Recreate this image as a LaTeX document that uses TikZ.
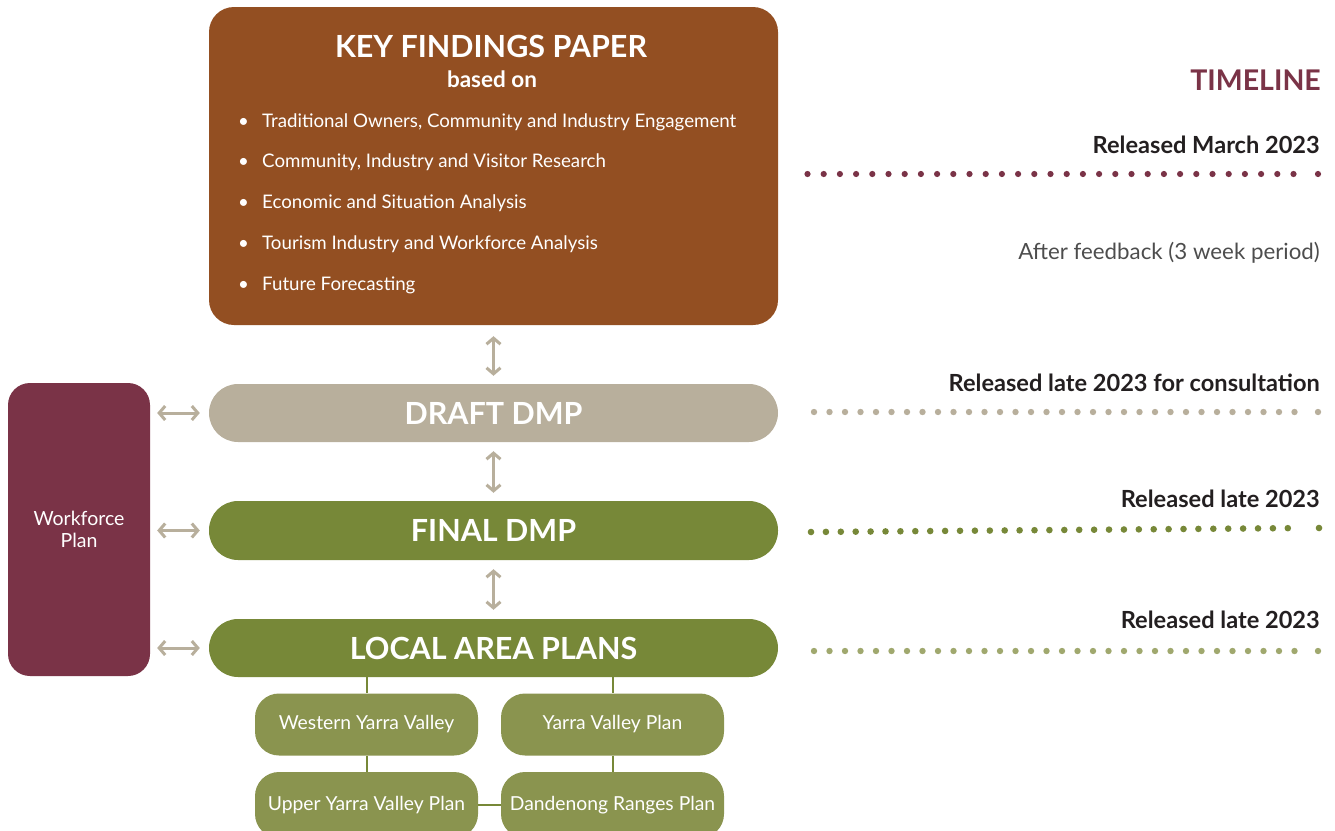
\documentclass[tikz,border=0pt]{standalone}
\usepackage{fontspec}
\setmainfont{Lato}
\usetikzlibrary{arrows.meta}

\definecolor{brownbox}{RGB}{147,79,34}
\definecolor{beige}{RGB}{184,175,156}
\definecolor{olive}{RGB}{119,136,56}
\definecolor{maroon}{RGB}{122,51,71}
\definecolor{subgreen}{RGB}{138,148,79}
\definecolor{lightgreen}{RGB}{160,168,110}
\definecolor{ink}{RGB}{35,31,32}
\definecolor{greytext}{RGB}{77,77,77}

\begin{document}
\begin{tikzpicture}[x=1pt,y=-1pt,
  stagebox/.style={rounded corners=29pt, minimum width=569pt, minimum height=58pt,
    inner sep=0pt, text=white, font=\fontsize{30.5}{32}\selectfont\bfseries},
  subbox/.style={fill=subgreen, rounded corners=24pt, minimum width=223pt,
    minimum height=62pt, inner sep=0pt, text=white, font=\fontsize{19.3}{21}\selectfont},
  bulletline/.style={anchor=west, text=white, inner sep=0pt, font=\fontsize{18.7}{21}\selectfont},
  dblarrow/.style={{Straight Barb[length=6pt,width=14pt]}-{Straight Barb[length=6pt,width=14pt]},
    line width=3pt, draw=beige},
  link/.style={draw=olive, line width=2pt},
  rightlabel/.style={anchor=east, inner sep=0pt, text=ink, font=\fontsize{23.6}{26}\selectfont\bfseries}
]
\useasboundingbox (0,0) rectangle (1335,830);
\clip (0,0) rectangle (1335,830);

% --- main column ---
\node[fill=brownbox, rounded corners=25pt, minimum width=569pt, minimum height=318pt,
      inner sep=0pt] (kfp) at (493.5,166) {};
\node[text=white, inner sep=0pt, font=\fontsize{30.5}{32}\selectfont\bfseries]
  (kfptitle) at (491,46) {KEY FINDINGS PAPER};
\node[text=white, inner sep=0pt, font=\fontsize{22.5}{24}\selectfont\bfseries]
  (kfpsub) at (492,79) {based on};
\node[bulletline] (b1) at (238,122) {\makebox[24pt][l]{•}Traditional Owners, Community and Industry Engagement};
\node[bulletline] (b2) at (238,162) {\makebox[24pt][l]{•}Community, Industry and Visitor Research};
\node[bulletline] (b3) at (238,203) {\makebox[24pt][l]{•}Economic and Situation Analysis};
\node[bulletline] (b4) at (238,244) {\makebox[24pt][l]{•}Tourism Industry and Workforce Analysis};
\node[bulletline] (b5) at (238,285) {\makebox[24pt][l]{•}Future Forecasting};

\node[stagebox, fill=beige] (draft) at (493.5,413) {DRAFT DMP};
\node[stagebox, fill=olive, minimum height=59pt] (final) at (493.5,530.5) {FINAL DMP};
\node[stagebox, fill=olive] (lap) at (493.5,648) {LOCAL AREA PLANS};

% --- side box ---
\node[fill=maroon, rounded corners=22pt, minimum width=142pt, minimum height=293pt,
      inner sep=0pt, text=white, align=center, font=\fontsize{19.5}{22}\selectfont]
  (wf) at (79,529.5) {Workforce\\Plan};

% --- arrows ---
\draw[dblarrow, shorten <=11pt, shorten >=8pt] (kfp.south) -- (draft.north);
\draw[dblarrow, shorten <=9pt, shorten >=8pt] (draft.south) -- (final.north);
\draw[dblarrow, shorten <=9pt, shorten >=9pt] (final.south) -- (lap.north);
\draw[dblarrow, shorten <=7pt, shorten >=9pt] (wf.east |- draft) -- (draft.west);
\draw[dblarrow, shorten <=7pt, shorten >=9pt] (wf.east |- final) -- (final.west);
\draw[dblarrow, shorten <=7pt, shorten >=9pt] (wf.east |- lap) -- (lap.west);

% --- local area plans ---
\node[subbox] (wyv) at (366.5,724.5) {Western Yarra Valley};
\node[subbox] (yvp) at (612.5,724.5) {Yarra Valley Plan};
\node[subbox, minimum height=66pt] (uyv) at (366.5,805) {\raisebox{2pt}{Upper Yarra Valley Plan}};
\node[subbox, minimum height=66pt] (drp) at (612.5,805) {\raisebox{2pt}{Dandenong Ranges Plan}};

\draw[link] (lap.south -| wyv.north) -- (wyv.north);
\draw[link] (lap.south -| yvp.north) -- (yvp.north);
\draw[link] (wyv.south) -- (uyv.north);
\draw[link] (yvp.south) -- (drp.north);
\draw[link] (uyv.east) -- (drp.west);

% --- timeline ---
\node[anchor=east, inner sep=0pt, text=maroon, font=\fontsize{28.5}{30}\selectfont\bfseries]
  (tl) at (1321,80) {TIMELINE};
\node[rightlabel] (t1) at (1320,145) {Released March 2023};
\node[anchor=east, inner sep=0pt, text=greytext, font=\fontsize{22.3}{25}\selectfont]
  (t1b) at (1320,253) {After feedback (3 week period)};
\node[rightlabel] (t2) at (1320,383) {Released late 2023 for consultation};
\node[rightlabel] (t3) at (1320,499) {Released late 2023};
\node[rightlabel] (t4) at (1320,620) {Released late 2023};

% dotted rules under each timeline entry
\foreach \k in {0,...,30} \fill[maroon] (807.5+16.2*\k,174) circle (3.1);
\fill[maroon] (1318,174) circle (3.1);
\foreach \k in {0,...,31} \fill[beige] (814+15.5*\k,412) circle (3.2);
\fill[beige] (1318,412) circle (3.2);
\foreach \k in {0,...,32} \fill[olive] (811+14.9*\k,532-0.12*\k) circle (3.3);
\fill[olive] (1319,528) circle (3.3);
\foreach \k in {0,...,31} \fill[lightgreen] (814+15.5*\k,651) circle (3.2);
\fill[lightgreen] (1318,651) circle (3.2);
\end{tikzpicture}
\end{document}
